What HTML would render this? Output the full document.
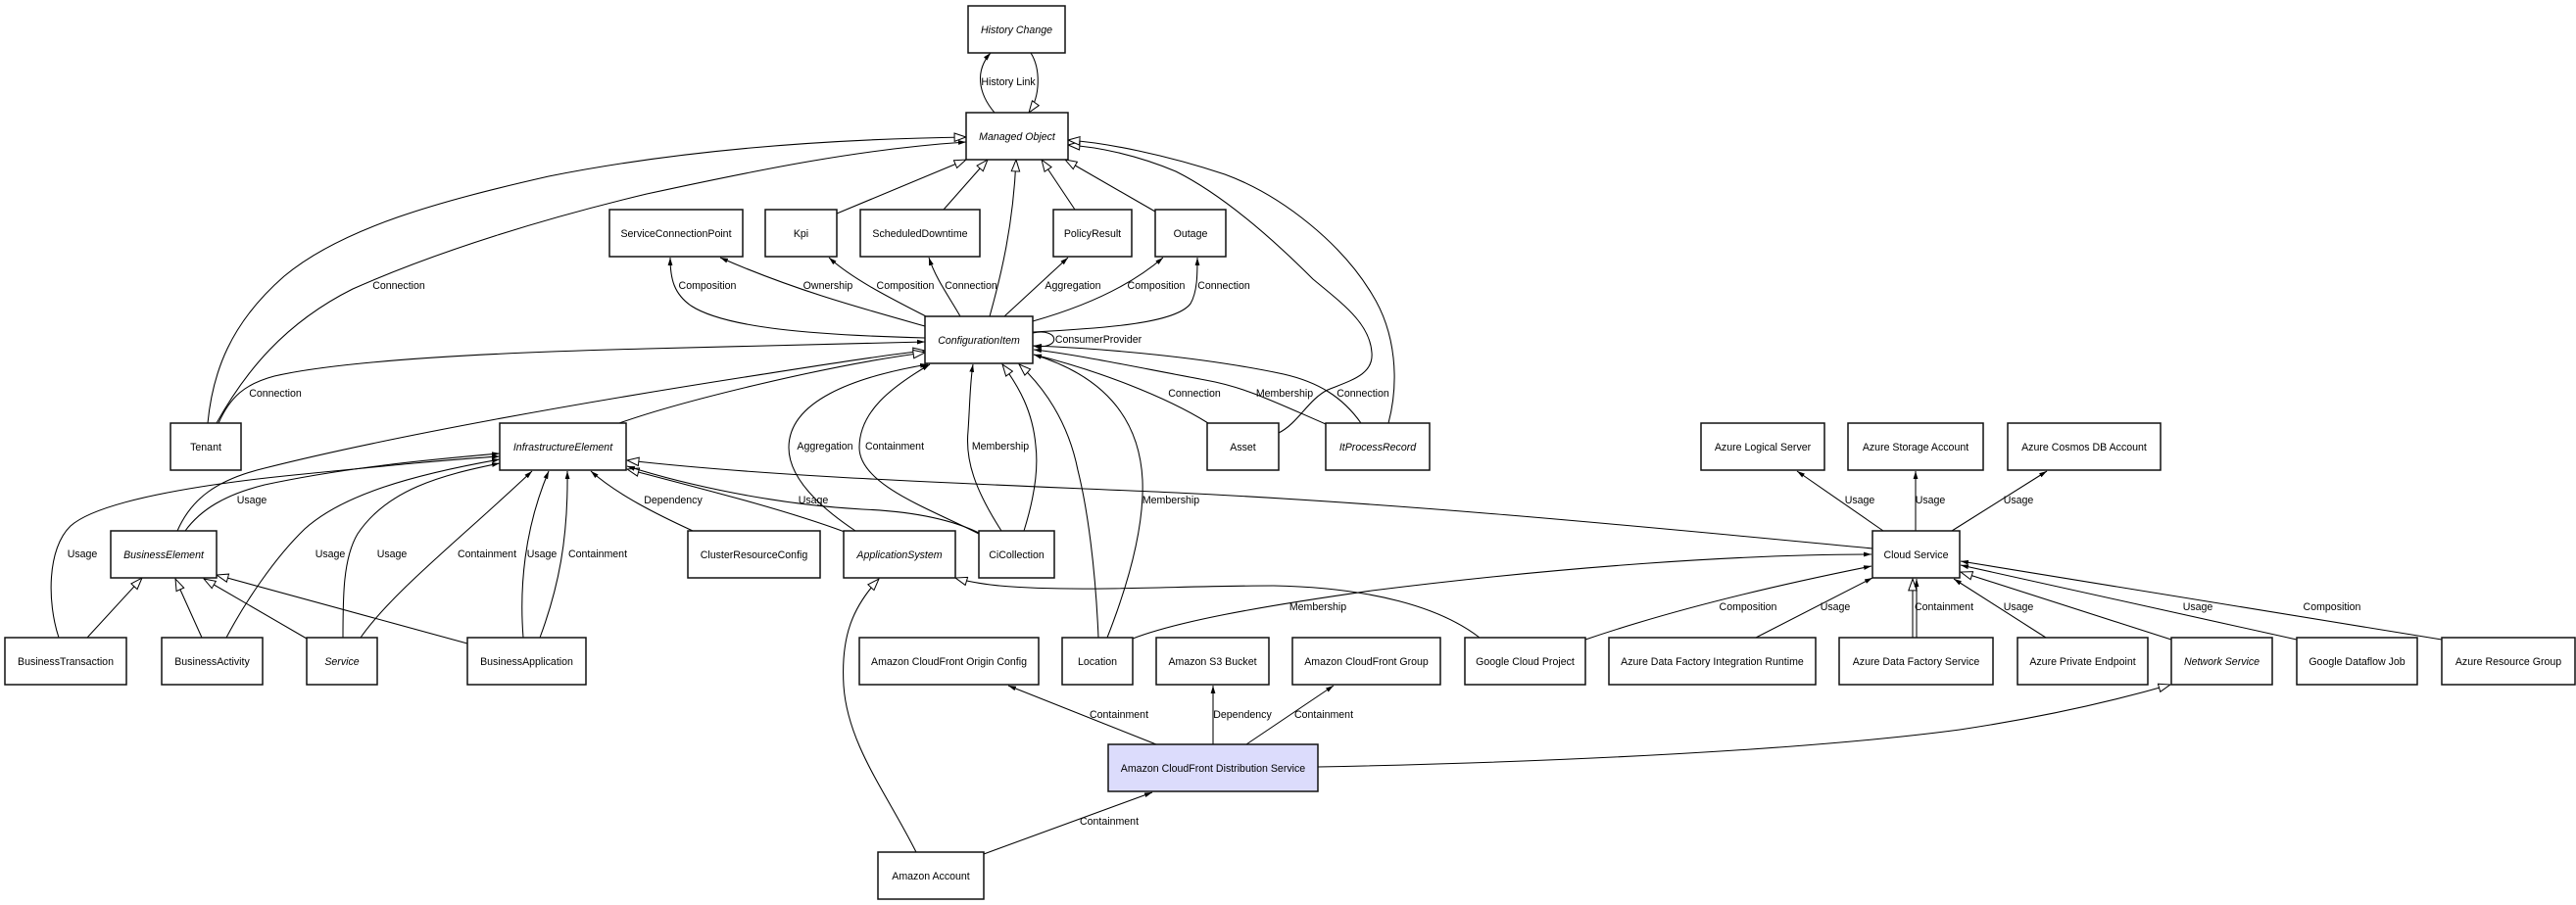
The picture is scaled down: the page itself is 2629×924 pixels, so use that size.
<!DOCTYPE html>
<html>
<head>
<meta charset="utf-8">
<style>
  html,body{margin:0;padding:0;background:#fff;}
  svg{display:block;}
  text{font-family:"Liberation Sans",Arial,sans-serif;font-size:10.6px;fill:#000;}
  .n rect{fill:#fff;stroke:#111;stroke-width:1.5;}
  .n text{text-anchor:middle;}
  .i{font-style:italic;}
  .e{fill:none;stroke:#000;stroke-width:1.05;}
  .l{text-anchor:middle;}
</style>
</head>
<body>
<svg width="2629" height="924" viewBox="0 0 2629 924" xmlns="http://www.w3.org/2000/svg">
<defs>
  <marker id="f" viewBox="0 0 8 6" refX="8" refY="3" markerWidth="8" markerHeight="6" orient="auto" markerUnits="userSpaceOnUse">
    <path d="M0,0.6 L8,3 L0,5.4 Z" fill="#000"/>
  </marker>
  <marker id="h" viewBox="0 0 13 10" refX="12.5" refY="5" markerWidth="13" markerHeight="10" orient="auto" markerUnits="userSpaceOnUse">
    <path d="M0.6,0.8 L12.4,5 L0.6,9.2 Z" fill="#fff" stroke="#000" stroke-width="1"/>
  </marker>
</defs>

<!-- ===== EDGES ===== -->
<g class="e">
  <!-- History -->
  <path d="M1015,115 C998,95 995,72 1011,54" marker-end="url(#f)"/>
  <path d="M1052,54 C1062,70 1062,98 1050,115" marker-end="url(#h)"/>

  <!-- Tenant -> MO -->
  <path d="M212,432 C217,380 235,330 290,282 C350,232 450,205 560,180 C700,152 850,142 986,140" marker-end="url(#h)"/>
  <path d="M221,432 C250,380 290,330 360,295 C450,255 560,222 660,198 C780,172 880,152 986,145" marker-end="url(#f)"/>

  <!-- generalizations to MO -->
  <path d="M854,218 L986,163" marker-end="url(#h)"/>
  <path d="M963,214 L1008,163" marker-end="url(#h)"/>
  <path d="M1010,323 C1022,280 1034,230 1037,163" marker-end="url(#h)"/>
  <path d="M1097,214 L1063,163" marker-end="url(#h)"/>
  <path d="M1179,216 L1087,163" marker-end="url(#h)"/>
  <path d="M1305,442 C1325,432 1335,408 1355,398 C1380,388 1402,382 1400,360 C1398,330 1370,310 1340,285 C1300,245 1250,200 1200,175 C1160,158 1120,150 1090,148" marker-end="url(#h)"/>
  <path d="M1417,432 C1428,390 1425,340 1400,300 C1370,250 1310,200 1250,178 C1190,158 1130,146 1090,143" marker-end="url(#h)"/>

  <!-- CI -> row C -->
  <path d="M944,345 C830,342 740,335 705,312 C688,300 684,285 684,263" marker-end="url(#f)"/>
  <path d="M944,333 C880,315 810,296 735,263" marker-end="url(#f)"/>
  <path d="M945,323 C910,305 870,285 846,263" marker-end="url(#f)"/>
  <path d="M980,323 C970,305 955,285 948,263" marker-end="url(#f)"/>
  <path d="M1025,323 L1090,263" marker-end="url(#f)"/>
  <path d="M1054,328 C1100,315 1150,295 1187,263" marker-end="url(#f)"/>
  <path d="M1054,339 C1130,335 1200,330 1215,310 C1222,298 1222,280 1222,263" marker-end="url(#f)"/>
  <!-- ConsumerProvider self loop -->
  <path d="M1054,340 C1082,334 1084,358 1054,353" marker-end="url(#f)"/>

  <!-- into CI left -->
  <path d="M223,432 C235,405 250,392 280,384 C350,368 500,360 660,356 C800,352 880,350 944,349" marker-end="url(#f)"/>
  <path d="M181,542 C195,510 220,490 270,478 C400,445 600,410 760,385 C850,371 900,363 944,358" marker-end="url(#h)"/>
  <path d="M632,432 C700,408 850,372 944,360" marker-end="url(#h)"/>

  <!-- into CI bottom -->
  <path d="M873,542 C840,520 805,490 805,457 C805,410 870,385 947,372" marker-end="url(#f)"/>
  <path d="M999,545 C950,520 877,495 877,457 C877,420 910,395 949,372" marker-end="url(#f)"/>
  <path d="M1022,542 C995,500 985,470 988,440 C990,410 990,390 993,372" marker-end="url(#f)"/>
  <path d="M1045,542 C1055,510 1060,480 1057,455 C1054,420 1040,395 1023,372" marker-end="url(#h)"/>
  <path d="M1121,651 C1118,580 1110,520 1100,480 C1090,430 1065,395 1040,372" marker-end="url(#h)"/>
  <path d="M1130,651 C1150,600 1168,540 1166,490 C1163,430 1130,385 1055,362" marker-end="url(#f)"/>

  <!-- into CI right -->
  <path d="M1233,432 C1190,405 1120,378 1055,362" marker-end="url(#f)"/>
  <path d="M1353,433 C1300,410 1270,395 1230,388 C1160,375 1100,362 1055,357" marker-end="url(#f)"/>
  <path d="M1389,432 C1370,405 1345,390 1310,382 C1230,365 1130,356 1055,353" marker-end="url(#f)"/>

  <!-- into IE left -->
  <path d="M189,542 C205,520 230,505 270,495 C350,478 430,470 510,463" marker-end="url(#f)"/>
  <path d="M60,651 C48,615 48,560 72,537 C100,512 200,495 300,485 C400,475 460,469 510,466" marker-end="url(#f)"/>
  <path d="M231,651 C250,615 280,570 311,540 C350,505 420,485 510,469" marker-end="url(#f)"/>
  <path d="M350,651 C350,610 350,570 365,545 C395,500 450,485 510,473" marker-end="url(#f)"/>

  <!-- into IE bottom -->
  <path d="M368,651 C400,605 470,550 543,481" marker-end="url(#f)"/>
  <path d="M534,651 C530,600 535,540 560,481" marker-end="url(#f)"/>
  <path d="M551,651 C570,600 580,550 579,481" marker-end="url(#f)"/>
  <path d="M707,542 C670,525 630,505 603,481" marker-end="url(#f)"/>

  <!-- into IE right -->
  <path d="M862,543 C800,520 720,500 640,479" marker-end="url(#h)"/>
  <path d="M999,544 C970,530 930,522 880,520 C790,515 700,495 640,476" marker-end="url(#f)"/>
  <path d="M1911,560 C1700,540 1450,515 1200,503 C1000,494 800,488 640,470" marker-end="url(#h)"/>

  <!-- BusinessElement generalizations -->
  <path d="M89,651 L145,590" marker-end="url(#h)"/>
  <path d="M206,651 L179,591" marker-end="url(#h)"/>
  <path d="M313,652 L208,591" marker-end="url(#h)"/>
  <path d="M477,657 L221,587" marker-end="url(#h)"/>

  <!-- ApplicationSystem generalizations -->
  <path d="M1510,651 C1470,620 1400,600 1300,598 C1200,598 1100,605 1020,598 C1000,596 985,593 975,590" marker-end="url(#h)"/>
  <path d="M935,870 C905,810 865,760 861,700 C858,650 870,620 897,591" marker-end="url(#h)"/>

  <!-- Amazon CloudFront Distribution Service -->
  <path d="M1004,872 L1176,809" marker-end="url(#f)"/>
  <path d="M1180,760 L1029,700" marker-end="url(#f)"/>
  <path d="M1238,760 L1238,700" marker-end="url(#f)"/>
  <path d="M1272,760 L1361,700" marker-end="url(#f)"/>
  <path d="M1345,783 C1600,778 1850,765 2000,745 C2100,730 2170,712 2215,699" marker-end="url(#h)"/>

  <!-- Cloud Service -->
  <path d="M1922,542 L1834,481" marker-end="url(#f)"/>
  <path d="M1955,542 L1955,481" marker-end="url(#f)"/>
  <path d="M1992,542 L2089,481" marker-end="url(#f)"/>
  <path d="M1156,652 C1200,635 1280,620 1400,603 C1600,578 1780,566 1910,566" marker-end="url(#f)"/>
  <path d="M1618,653 C1700,625 1800,600 1910,578" marker-end="url(#f)"/>
  <path d="M1792,651 L1911,590" marker-end="url(#f)"/>
  <path d="M1952,651 L1952,591" marker-end="url(#h)"/>
  <path d="M1956,651 L1956,591" marker-end="url(#f)"/>
  <path d="M2088,651 L1994,591" marker-end="url(#f)"/>
  <path d="M2216,653 L2001,584" marker-end="url(#h)"/>
  <path d="M2344,653 L2001,577" marker-end="url(#f)"/>
  <path d="M2492,653 L2001,573" marker-end="url(#f)"/>
</g>

<!-- ===== EDGE LABELS ===== -->
<g class="l">
  <text class="l" x="1029" y="87">History Link</text>
  <text class="l" x="407" y="295">Connection</text>
  <text class="l" x="722" y="295">Composition</text>
  <text class="l" x="845" y="295">Ownership</text>
  <text class="l" x="924" y="295">Composition</text>
  <text class="l" x="991" y="295">Connection</text>
  <text class="l" x="1095" y="295">Aggregation</text>
  <text class="l" x="1180" y="295">Composition</text>
  <text class="l" x="1249" y="295">Connection</text>
  <text class="l" x="1121" y="350">ConsumerProvider</text>
  <text class="l" x="281" y="405">Connection</text>
  <text class="l" x="1219" y="405">Connection</text>
  <text class="l" x="1311" y="405">Membership</text>
  <text class="l" x="1391" y="405">Connection</text>
  <text class="l" x="842" y="459">Aggregation</text>
  <text class="l" x="913" y="459">Containment</text>
  <text class="l" x="1021" y="459">Membership</text>
  <text class="l" x="257" y="514">Usage</text>
  <text class="l" x="687" y="514">Dependency</text>
  <text class="l" x="830" y="514">Usage</text>
  <text class="l" x="1195" y="514">Membership</text>
  <text class="l" x="1898" y="514">Usage</text>
  <text class="l" x="1970" y="514">Usage</text>
  <text class="l" x="2060" y="514">Usage</text>
  <text class="l" x="84" y="569">Usage</text>
  <text class="l" x="337" y="569">Usage</text>
  <text class="l" x="400" y="569">Usage</text>
  <text class="l" x="497" y="569">Containment</text>
  <text class="l" x="553" y="569">Usage</text>
  <text class="l" x="610" y="569">Containment</text>
  <text class="l" x="1345" y="623">Membership</text>
  <text class="l" x="1784" y="623">Composition</text>
  <text class="l" x="1873" y="623">Usage</text>
  <text class="l" x="1984" y="623">Containment</text>
  <text class="l" x="2060" y="623">Usage</text>
  <text class="l" x="2243" y="623">Usage</text>
  <text class="l" x="2380" y="623">Composition</text>
  <text class="l" x="1142" y="733">Containment</text>
  <text class="l" x="1268" y="733">Dependency</text>
  <text class="l" x="1351" y="733">Containment</text>
  <text class="l" x="1132" y="842">Containment</text>
</g>

<!-- ===== NODES ===== -->
<g class="n">
  <rect x="988" y="6" width="99" height="48"/><text class="i" x="1037.5" y="34">History Change</text>
  <rect x="986" y="115" width="104" height="48"/><text class="i" x="1038" y="143">Managed Object</text>

  <rect x="622" y="214" width="136" height="48"/><text x="690" y="242">ServiceConnectionPoint</text>
  <rect x="781" y="214" width="73" height="48"/><text x="817.5" y="242">Kpi</text>
  <rect x="878" y="214" width="122" height="48"/><text x="939" y="242">ScheduledDowntime</text>
  <rect x="1075" y="214" width="80" height="48"/><text x="1115" y="242">PolicyResult</text>
  <rect x="1179" y="214" width="72" height="48"/><text x="1215" y="242">Outage</text>

  <rect x="944" y="323" width="110" height="48"/><text class="i" x="999" y="351">ConfigurationItem</text>

  <rect x="174" y="432" width="72" height="48"/><text x="210" y="460">Tenant</text>
  <rect x="510" y="432" width="129" height="48"/><text class="i" x="574.5" y="460">InfrastructureElement</text>
  <rect x="1232" y="432" width="73" height="48"/><text x="1268.5" y="460">Asset</text>
  <rect x="1353" y="432" width="106" height="48"/><text class="i" x="1406" y="460">ItProcessRecord</text>
  <rect x="1736" y="432" width="126" height="48"/><text x="1799" y="460">Azure Logical Server</text>
  <rect x="1886" y="432" width="138" height="48"/><text x="1955" y="460">Azure Storage Account</text>
  <rect x="2049" y="432" width="156" height="48"/><text x="2127" y="460">Azure Cosmos DB Account</text>

  <rect x="113" y="542" width="108" height="48"/><text class="i" x="167" y="570">BusinessElement</text>
  <rect x="702" y="542" width="135" height="48"/><text x="769.5" y="570">ClusterResourceConfig</text>
  <rect x="861" y="542" width="114" height="48"/><text class="i" x="918" y="570">ApplicationSystem</text>
  <rect x="999" y="542" width="77" height="48"/><text x="1037.5" y="570">CiCollection</text>
  <rect x="1911" y="542" width="89" height="48"/><text x="1955.5" y="570">Cloud Service</text>

  <rect x="5" y="651" width="124" height="48"/><text x="67" y="679">BusinessTransaction</text>
  <rect x="165" y="651" width="103" height="48"/><text x="216.5" y="679">BusinessActivity</text>
  <rect x="313" y="651" width="72" height="48"/><text class="i" x="349" y="679">Service</text>
  <rect x="477" y="651" width="121" height="48"/><text x="537.5" y="679">BusinessApplication</text>
  <rect x="877" y="651" width="183" height="48"/><text x="968.5" y="679">Amazon CloudFront Origin Config</text>
  <rect x="1084" y="651" width="72" height="48"/><text x="1120" y="679">Location</text>
  <rect x="1180" y="651" width="115" height="48"/><text x="1237.5" y="679">Amazon S3 Bucket</text>
  <rect x="1319" y="651" width="151" height="48"/><text x="1394.5" y="679">Amazon CloudFront Group</text>
  <rect x="1495" y="651" width="123" height="48"/><text x="1556.5" y="679">Google Cloud Project</text>
  <rect x="1642" y="651" width="211" height="48"/><text x="1747.5" y="679">Azure Data Factory Integration Runtime</text>
  <rect x="1877" y="651" width="157" height="48"/><text x="1955.5" y="679">Azure Data Factory Service</text>
  <rect x="2059" y="651" width="133" height="48"/><text x="2125.5" y="679">Azure Private Endpoint</text>
  <rect x="2216" y="651" width="103" height="48"/><text class="i" x="2267.5" y="679">Network Service</text>
  <rect x="2344" y="651" width="123" height="48"/><text x="2405.5" y="679">Google Dataflow Job</text>
  <rect x="2492" y="651" width="136" height="48"/><text x="2560" y="679">Azure Resource Group</text>

  <rect x="1131" y="760" width="214" height="48" style="fill:#dcdcfc"/><text x="1238" y="788">Amazon CloudFront Distribution Service</text>
  <rect x="896" y="870" width="108" height="48"/><text x="950" y="898">Amazon Account</text>
</g>
</svg>
</body>
</html>
